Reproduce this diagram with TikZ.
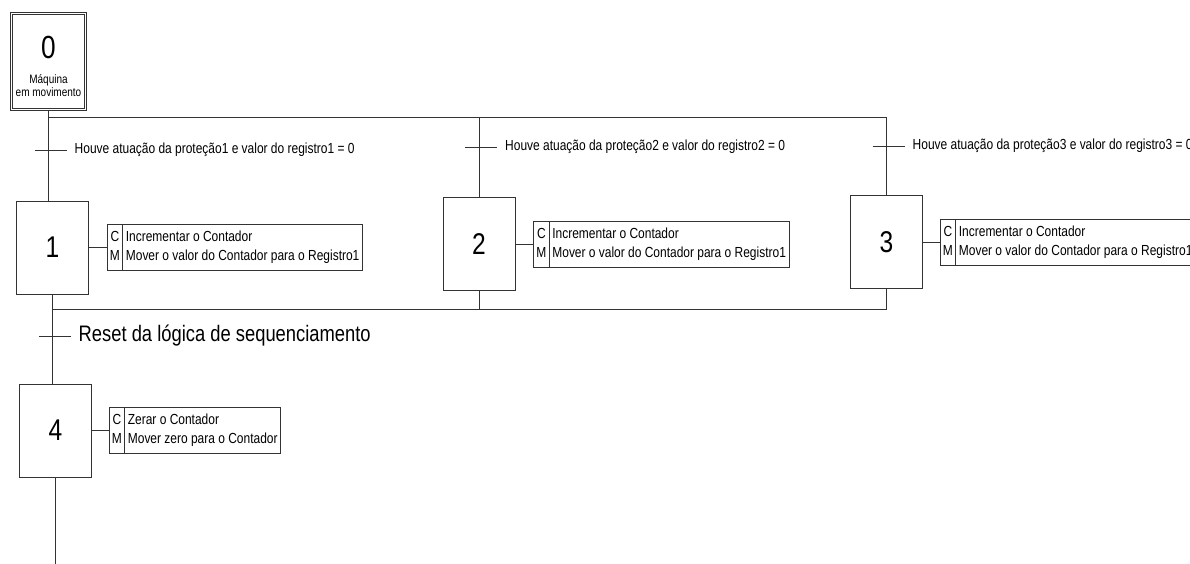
\documentclass[tikz,border=0pt]{standalone}
\usepackage{fontspec}
\setmainfont{Liberation Sans}[FakeStretch=0.82]
\usetikzlibrary{positioning}
\tikzset{stepnode/.style={rectangle, draw=black!80, line width=0.8pt, minimum width=72pt, minimum height=93pt, inner sep=0pt, font=\fontsize{30}{30}\selectfont},}
\tikzset{initnode/.style={stepnode, minimum width=74pt, minimum height=96pt, double, double distance=1.6pt, align=center, font=\fontsize{12.2}{13.5}\selectfont},}
\tikzset{keynode/.style={rectangle, draw=black!80, line width=0.8pt, minimum height=46pt, inner xsep=3pt, inner ysep=0pt, outer sep=0pt, align=center, font=\fontsize{14.6}{19}\selectfont},}
\tikzset{actnode/.style={keynode, align=left},}
\tikzset{translabel/.style={inner sep=0pt, font=\fontsize{14.6}{16}\selectfont},}
\tikzset{wire/.style={draw=black!80, line width=0.8pt},}

\begin{document}
\begin{tikzpicture}[x=1pt, y=-1pt, node distance=18pt]
\path[use as bounding box, clip] (0,0) rectangle (1190,564);
\fill[white] (0,0) rectangle (1190,564);
\node [initnode] (s0) at (48.5,61.5) {\rule{0pt}{33pt}{\fontsize{32}{32}\selectfont 0}\\[11pt]Máquina\\em movimento};
\node [stepnode] (s1) at (52.5,247.5) {1};
\node [stepnode] (s2) at (479,244) {2};
\node [stepnode] (s3) at (886.5,242) {3};
\node [stepnode] (s4) at (55.5,430.5) {4};

\node [keynode, right=of s1] (k1) {C\strut\\M\strut};
\node [actnode, right=0pt of k1] (a1) {Incrementar o Contador\strut\\Mover o valor do Contador para o Registro1\strut};
\node [keynode, right=of s2] (k2) {C\strut\\M\strut};
\node [actnode, right=0pt of k2] (a2) {Incrementar o Contador\strut\\Mover o valor do Contador para o Registro1\strut};
\node [keynode, right=17pt of s3] (k3) {C\strut\\M\strut};
\node [actnode, right=0pt of k3] (a3) {Incrementar o Contador\strut\\Mover o valor do Contador para o Registro1\strut};
\node [keynode, right=17pt of s4] (k4) {C\strut\\M\strut};
\node [actnode, right=0pt of k4] (a4) {Zerar o Contador\strut\\Mover zero para o Contador\strut};
\draw[wire] (s1.east) -- (k1.west);
\draw[wire] (s2.east) -- (k2.west);
\draw[wire] (s3.east) -- (k3.west);
\draw[wire] (s4.east) -- (k4.west);

\coordinate (d0) at (48.5,117);
\coordinate (c0) at (52.5,309);
\coordinate (e4) at (55.5,564);
\draw[wire] (s0.south) -- (s0.south |- s1.north);
\draw[wire] (d0) -- (d0 -| s3.north) -- (s3.north);
\draw[wire] (d0 -| s2.north) -- (s2.north);
\draw[wire] (s1.south) -- (c0) -- (c0 -| s3.south) -- (s3.south);
\draw[wire] (s2.south) -- (s2.south |- c0);
\draw[wire] (c0) -- (c0 |- s4.north);
\draw[wire] (s4.south) -- (e4);

\coordinate (t1) at (48.5,150);
\coordinate (t2) at (479,147);
\coordinate (t3) at (886.5,146);
\coordinate (tr) at (52.5,336);
\draw[wire] ([xshift=-14pt]t1) -- ([xshift=18pt]t1) coordinate (t1e);
\draw[wire] ([xshift=-14pt]t2) -- ([xshift=18pt]t2) coordinate (t2e);
\draw[wire] ([xshift=-14pt]t3) -- ([xshift=18pt]t3) coordinate (t3e);
\draw[wire] ([xshift=-14pt]tr) -- ([xshift=18pt]tr) coordinate (tre);
\node [translabel, right=8pt of t1e] (l1) {Houve atuação da proteção1 e valor do registro1 = 0};
\node [translabel, right=8pt of t2e] (l2) {Houve atuação da proteção2 e valor do registro2 = 0};
\node [translabel, right=8pt of t3e] (l3) {Houve atuação da proteção3 e valor do registro3 = 0};
\node [translabel, right=8pt of tre, font=\fontsize{22.4}{24}\selectfont] (lr) {Reset da lógica de sequenciamento};
\end{tikzpicture}
\end{document}
